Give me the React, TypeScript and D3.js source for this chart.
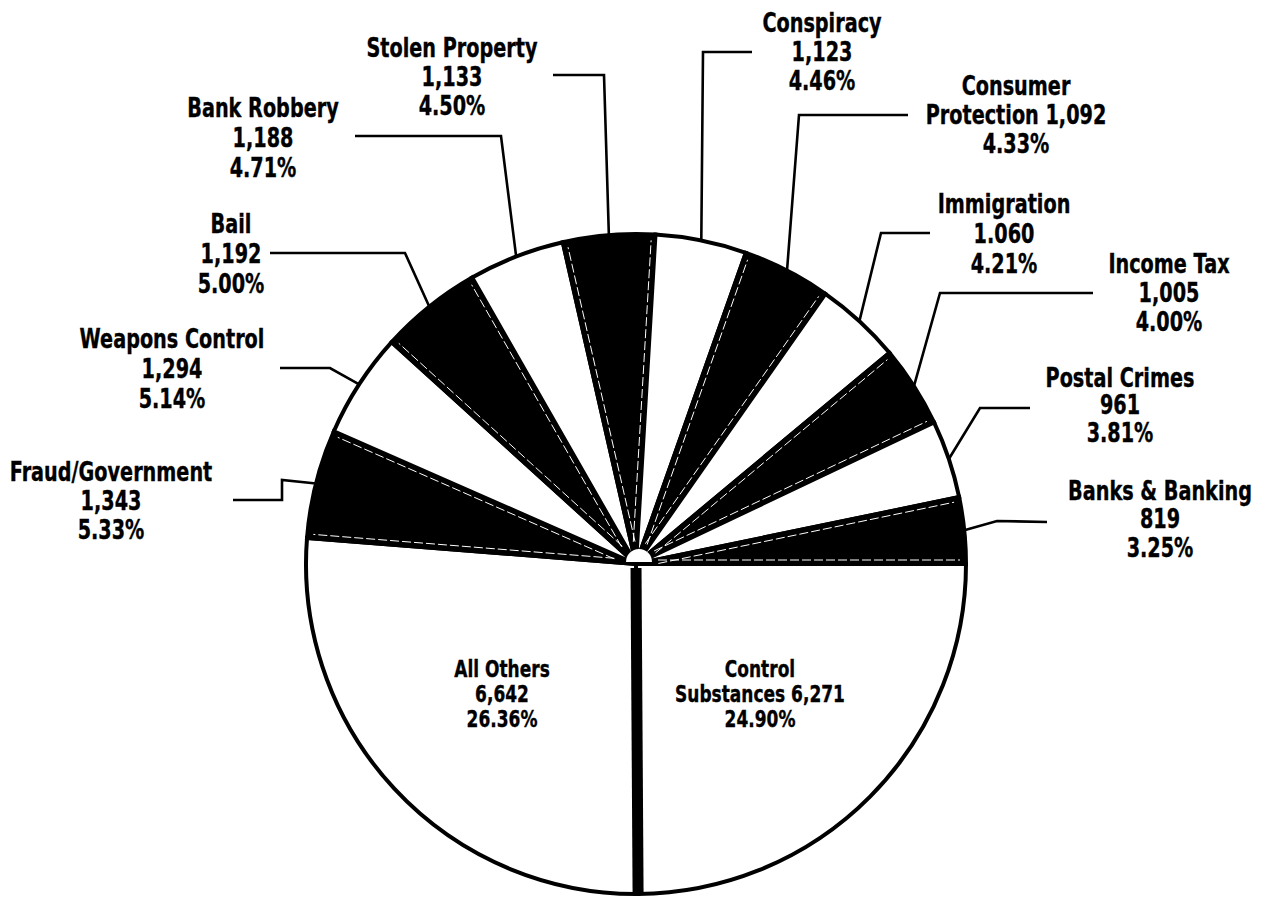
import React from "react";
import * as d3 from "d3";

// ---- data ----
const categories = [
  "Control Substances", "All Others", "Fraud/Government", "Weapons Control", "Bail",
  "Bank Robbery", "Stolen Property", "Conspiracy", "Consumer Protection", "Immigration",
  "Income Tax", "Postal Crimes", "Banks & Banking",
];
const shares = [24.90, 26.36, 5.33, 5.14, 5.00, 4.71, 4.50, 4.46, 4.33, 4.21, 4.00, 3.81, 3.25];
const countLabels = ["6,271", "6,642", "1,343", "1,294", "1,192", "1,188", "1,133", "1,123", "1,092", "1.060", "1,005", "961", "819"];
const percentLabels = ["24.90%", "26.36%", "5.33%", "5.14%", "5.00%", "4.71%", "4.50%", "4.46%", "4.33%", "4.21%", "4.00%", "3.81%", "3.25%"];
const nameLines = [
  ["Control", "Substances"], ["All Others"], ["Fraud/Government"], ["Weapons Control"], ["Bail"],
  ["Bank Robbery"], ["Stolen Property"], ["Conspiracy"], ["Consumer", "Protection"], ["Immigration"],
  ["Income Tax"], ["Postal Crimes"], ["Banks & Banking"],
];

// ---- styles / layout ----
const fills = ["#fff", "#fff", "#000", "#fff", "#000", "#fff", "#000", "#fff", "#000", "#fff", "#000", "#fff", "#000"];
type Pt = [number, number];
const labelLayout: { x: number; y: number; dy: number; fs?: number; join?: boolean; leader: Pt[] | null }[] = [
  { x: 760, y: 677, dy: 25, fs: 23, join: true, leader: null },
  { x: 502, y: 677, dy: 25, fs: 23, leader: null },
  { x: 111, y: 481, dy: 29, leader: [[233, 500], [282, 500], [282, 480]] },
  { x: 172, y: 348, dy: 30, leader: [[280, 368], [330, 368]] },
  { x: 231, y: 233, dy: 30, leader: [[270, 253], [405, 253]] },
  { x: 263, y: 117, dy: 30, leader: [[355, 136], [501, 136]] },
  { x: 452, y: 57, dy: 29, leader: [[553, 75], [604, 75]] },
  { x: 822, y: 32, dy: 29, leader: [[752, 52], [703, 52]] },
  { x: 1016, y: 95, dy: 29, join: true, leader: [[908, 115], [799, 115]] },
  { x: 1004, y: 213, dy: 30, leader: [[930, 233], [881, 233]] },
  { x: 1169, y: 273, dy: 29, leader: [[1093, 293], [940, 293]] },
  { x: 1120, y: 387, dy: 27.5, leader: [[1030, 408], [980, 408]] },
  { x: 1160, y: 500, dy: 28.5, leader: [[1047, 522], [997, 521]] },
];

const W = 1271, H = 897;
const cx = 636, cy = 564, R = 330;

export default function App() {
  const pie = d3.pie<number>().sort(null).value((d) => d)
    .startAngle(Math.PI / 2).endAngle(Math.PI / 2 + 2 * Math.PI);
  const arcs = pie(shares);
  const arc = d3.arc<d3.PieArcDatum<number>>().innerRadius(0).outerRadius(R);
  const edgeArc = d3.arc<d3.PieArcDatum<number>>().innerRadius(R).outerRadius(R);
  const line = d3.line();

  const u = (a: number, r: number): Pt => [r * Math.sin(a), -r * Math.cos(a)];

  // thin white lines inside the radial edges of black slices
  const inner: { a: number; side: number }[] = [];
  arcs.forEach((d, i) => {
    if (fills[i] === "#000") {
      inner.push({ a: d.startAngle, side: 1 });
      inner.push({ a: d.endAngle, side: -1 });
    }
  });

  const barAngle = arcs[0].endAngle;
  const hub = d3.arc()({ innerRadius: 0, outerRadius: 13, startAngle: -Math.PI / 2, endAngle: Math.PI / 2 } as any);

  return (
    <svg width={W} height={H} style={{ position: "absolute", left: 0, top: 0, background: "#fff" }}>
      <g transform={`translate(${cx},${cy})`}>
        {arcs.map((d, i) => (
          <path key={i} d={arc(d) || ""} fill={fills[i]} stroke="#000" strokeWidth={4} strokeLinejoin="miter" />
        ))}
        {inner.map((e, i) => {
          const off = 4 * e.side;
          const n: Pt = [Math.cos(e.a) * off, Math.sin(e.a) * off];
          const p0 = u(e.a, 22), p1 = u(e.a, R - 6);
          return (
            <line key={i} x1={p0[0] + n[0]} y1={p0[1] + n[1]} x2={p1[0] + n[0]} y2={p1[1] + n[1]}
              stroke="#fff" strokeWidth={1} strokeDasharray="9 3" />
          );
        })}
        <line x1={u(barAngle, 4)[0]} y1={u(barAngle, 4)[1]} x2={u(barAngle, R)[0]} y2={u(barAngle, R)[1]}
          stroke="#000" strokeWidth={11} />
        <path d={hub || ""} fill="#fff" transform="translate(3,-2)" />
      </g>
      {arcs.map((d, i) => {
        const lay = labelLayout[i];
        if (!lay.leader) return null;
        const e = edgeArc.centroid(d);
        const pts: Pt[] = [...lay.leader, [e[0] + cx, e[1] + cy]];
        return <path key={"l" + i} d={line(pts) || ""} fill="none" stroke="#000" strokeWidth={2.6} />;
      })}
      {categories.map((c, i) => {
        const lay = labelLayout[i];
        const names = nameLines[i];
        const lines = lay.join
          ? [...names.slice(0, -1), names[names.length - 1] + " " + countLabels[i], percentLabels[i]]
          : [...names, countLabels[i], percentLabels[i]];
        return (
          <g key={"t" + i} transform={`translate(${lay.x},0)`}>
            <text transform="scale(0.74,1)" textAnchor="middle" fontFamily="DejaVu Sans" fontWeight="bold"
              fontSize={lay.fs ?? 26} fill="#000" stroke="#000" strokeWidth={0.4}>
              {lines.map((s, j) => (
                <tspan key={j} x={0} y={lay.y + j * lay.dy} xmlSpace="preserve">{s}</tspan>
              ))}
            </text>
          </g>
        );
      })}
    </svg>
  );
}
